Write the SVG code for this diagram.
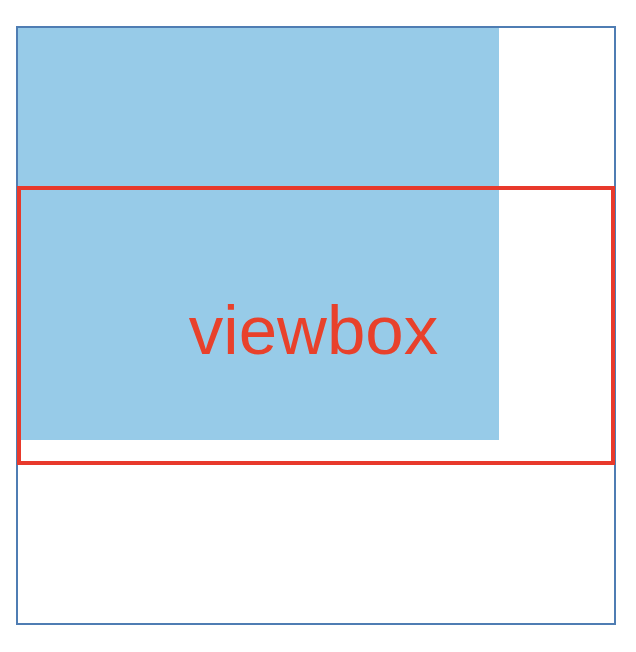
<svg xmlns="http://www.w3.org/2000/svg" width="636" height="652" viewBox="0 0 636 652">
<style>
.outer{fill:#ffffff;stroke:#4f7db3;stroke-width:2}
.fillrect{fill:#97cbe8}
.vb{fill:none;stroke:#e8392b;stroke-width:4}
.lbl{font-family:"Liberation Sans",Arial,sans-serif;font-size:69px;fill:#e8412b;text-anchor:middle}
</style>
<rect width="636" height="652" fill="#ffffff"/>
<g id="canvas">
<rect class="outer" x="17" y="27" width="598" height="597"/>
</g>
<g id="content">
<rect class="fillrect" x="18" y="28" width="481" height="412"/>
</g>
<g id="viewbox">
<rect class="vb" x="19" y="188" width="594" height="275"/>
<text class="lbl" x="313.5" y="354">viewbox</text>
</g>
</svg>
